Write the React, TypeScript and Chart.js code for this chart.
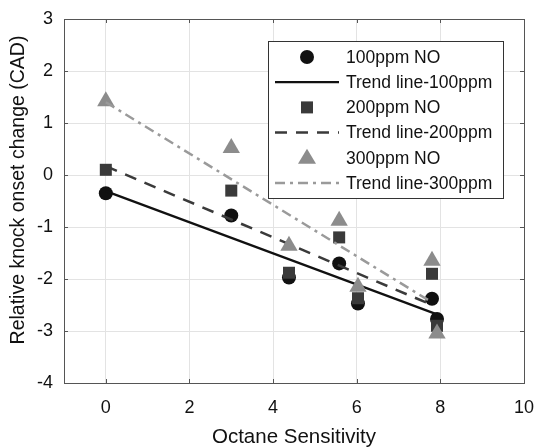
import React, { useEffect, useRef } from "react";
import { Chart, registerables } from "chart.js";

Chart.register(...registerables);

const sensitivity100 = [0, 3, 4.38, 5.58, 6.03, 7.8, 7.92];
const knock100 = [-0.35, -0.78, -1.97, -1.7, -2.47, -2.38, -2.77];
const sensitivity200 = [0, 3, 4.38, 5.58, 6.03, 7.8, 7.92];
const knock200 = [0.1, -0.3, -1.88, -1.2, -2.37, -1.9, -2.9];
const sensitivity300 = [0, 3, 4.38, 5.58, 6.03, 7.8, 7.92];
const knock300 = [1.42, 0.52, -1.36, -0.88, -2.15, -1.65, -3.05];

const trendX100 = [0, 7.92];
const trendY100 = [-0.31, -2.68];
const trendX200 = [0, 7.8];
const trendY200 = [0.17, -2.5];
const trendX300 = [0, 7.8];
const trendY300 = [1.4, -2.45];

const xTicks = [0, 2, 4, 6, 8, 10];
const yTicks = [-4, -3, -2, -1, 0, 1, 2, 3];
const xTitle = "Octane Sensitivity";
const yTitle = "Relative knock onset change (CAD)";
const legendLabels = [
  "100ppm NO",
  "Trend line-100ppm",
  "200ppm NO",
  "Trend line-200ppm",
  "300ppm NO",
  "Trend line-300ppm",
];

const C100 = "#111111";
const C200 = "#3a3a3a";
const C300 = "#8c8c8c";
const L300 = "#9a9a9a";
const FONT = "'Liberation Sans', Arial, sans-serif";

const pts = (xs: number[], ys: number[]) => xs.map((x, i) => ({ x, y: ys[i] }));

const overlayPlugin = {
  id: "overlay",
  afterDraw(chart: any) {
    const ctx = chart.ctx as CanvasRenderingContext2D;
    const area = chart.chartArea;
    const xs = chart.scales.x;
    const ys = chart.scales.y;
    ctx.save();
    ctx.strokeStyle = "#555";
    ctx.lineWidth = 1;
    ctx.beginPath();
    const tl = 4;
    xTicks.forEach((v) => {
      const px = Math.round(xs.getPixelForValue(v)) + 0.5;
      ctx.moveTo(px, area.bottom);
      ctx.lineTo(px, area.bottom - tl);
      ctx.moveTo(px, area.top);
      ctx.lineTo(px, area.top + tl);
    });
    yTicks.forEach((v) => {
      const py = Math.round(ys.getPixelForValue(v)) + 0.5;
      ctx.moveTo(area.left, py);
      ctx.lineTo(area.left + tl, py);
      ctx.moveTo(area.right, py);
      ctx.lineTo(area.right - tl, py);
    });
    ctx.stroke();
    ctx.strokeRect(
      Math.round(area.left) + 0.5,
      Math.round(area.top) + 0.5,
      Math.round(area.right - area.left),
      Math.round(area.bottom - area.top)
    );

    ctx.fillStyle = "#111";
    ctx.textAlign = "center";
    ctx.textBaseline = "middle";
    ctx.font = `20.5px ${FONT}`;
    ctx.fillText(xTitle, (area.left + area.right) / 2, 437);
    ctx.save();
    ctx.translate(19, 190);
    ctx.rotate(-Math.PI / 2);
    ctx.font = `19.5px ${FONT}`;
    ctx.fillText(yTitle, 0, 0);
    ctx.restore();

    const lx = 268, ly = 41, lw = 235, lh = 157;
    ctx.fillStyle = "#fff";
    ctx.fillRect(lx, ly, lw, lh);
    ctx.strokeStyle = "#333";
    ctx.lineWidth = 1;
    ctx.strokeRect(lx + 0.5, ly + 0.5, lw, lh);
    const rowY = (i: number) => 57 + i * 25.2;
    const mx = 307;
    const sx0 = 275, sx1 = 339;
    ctx.fillStyle = C100;
    ctx.beginPath();
    ctx.arc(mx, rowY(0), 7, 0, Math.PI * 2);
    ctx.fill();
    ctx.fillStyle = C200;
    ctx.fillRect(mx - 6, rowY(2) - 6, 12, 12);
    ctx.fillStyle = C300;
    ctx.beginPath();
    ctx.moveTo(mx, rowY(4) - 9);
    ctx.lineTo(mx + 9, rowY(4) + 6);
    ctx.lineTo(mx - 9, rowY(4) + 6);
    ctx.closePath();
    ctx.fill();
    const drawSample = (i: number, color: string, dash: number[], w: number) => {
      ctx.strokeStyle = color;
      ctx.lineWidth = w;
      ctx.setLineDash(dash);
      ctx.beginPath();
      ctx.moveTo(sx0, rowY(i));
      ctx.lineTo(sx1, rowY(i));
      ctx.stroke();
      ctx.setLineDash([]);
    };
    drawSample(1, C100, [], 2.2);
    drawSample(3, C200, [12, 9], 2.5);
    drawSample(5, L300, [10, 5, 3, 5], 2.5);
    ctx.fillStyle = "#111";
    ctx.textAlign = "left";
    ctx.font = `17.5px ${FONT}`;
    legendLabels.forEach((t, i) => ctx.fillText(t, 346, rowY(i) + 1));
    ctx.restore();
  },
};

export default function App() {
  const ref = useRef<HTMLCanvasElement | null>(null);
  useEffect(() => {
    if (!ref.current) return;
    const chart = new Chart(ref.current, {
      type: "scatter",
      data: {
        datasets: [
          {
            label: legendLabels[0],
            data: pts(sensitivity100, knock100),
            pointStyle: "circle",
            pointRadius: 7,
            backgroundColor: C100,
            borderColor: C100,
            borderWidth: 0,
            order: 6,
          },
          {
            label: legendLabels[1],
            data: pts(trendX100, trendY100),
            showLine: true,
            pointRadius: 0,
            borderColor: C100,
            borderWidth: 2.2,
            order: 5,
          },
          {
            label: legendLabels[2],
            data: pts(sensitivity200, knock200),
            pointStyle: "rect",
            pointRadius: 8.5,
            backgroundColor: C200,
            borderColor: C200,
            borderWidth: 0,
            order: 4,
          },
          {
            label: legendLabels[3],
            data: pts(trendX200, trendY200),
            showLine: true,
            pointRadius: 0,
            borderColor: C200,
            borderWidth: 2.5,
            borderDash: [12, 9],
            order: 3,
          },
          {
            label: legendLabels[4],
            data: pts(sensitivity300, knock300),
            pointStyle: "triangle",
            pointRadius: 10,
            backgroundColor: C300,
            borderColor: C300,
            borderWidth: 0,
            order: 2,
          },
          {
            label: legendLabels[5],
            data: pts(trendX300, trendY300),
            showLine: true,
            pointRadius: 0,
            borderColor: L300,
            borderWidth: 2.5,
            borderDash: [10, 5, 3, 5],
            order: 1,
          },
        ] as any,
      },
      options: {
        responsive: false,
        animation: false,
        layout: { padding: { top: 19, right: 12, left: 0, bottom: 0 } },
        plugins: { legend: { display: false }, tooltip: { enabled: false } },
        scales: {
          x: {
            type: "linear",
            min: -1,
            max: 10,
            afterFit: (s: any) => {
              s.height = 64;
              s.paddingLeft = 0;
              s.paddingRight = 0;
            },
            afterBuildTicks: (s: any) => {
              s.ticks = xTicks.map((v) => ({ value: v }));
            },
            grid: { color: "#e3e3e3", drawTicks: false },
            border: { display: false },
            ticks: {
              padding: 14,
              color: "#111",
              font: { family: FONT, size: 18 },
            },
          },
          y: {
            type: "linear",
            min: -4,
            max: 3,
            afterFit: (s: any) => {
              s.width = 64;
              s.paddingTop = 0;
              s.paddingBottom = 0;
            },
            afterBuildTicks: (s: any) => {
              s.ticks = yTicks.map((v) => ({ value: v }));
            },
            grid: { color: "#e3e3e3", drawTicks: false },
            border: { display: false },
            ticks: {
              padding: 11,
              color: "#111",
              font: { family: FONT, size: 18 },
            },
          },
        },
      },
      plugins: [overlayPlugin],
    } as any);
    return () => chart.destroy();
  }, []);
  return (
    <div style={{ position: "fixed", left: 0, top: 0, width: 536, height: 447, background: "#fff" }}>
      <canvas ref={ref} width={536} height={447} />
    </div>
  );
}
